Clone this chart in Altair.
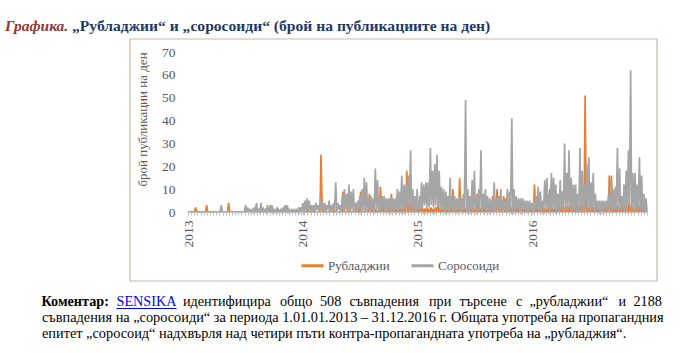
import altair as alt
import pandas as pd

# ---------------- data (weekly readings: peak and trough of each week) ----------------
series_names = ["Рубладжии", "Соросоиди"]
year_labels = ["2013", "2014", "2015", "2016"]
y_ticks = [0, 10, 20, 30, 40, 50, 60, 70]

soros_peak = [
    # 2013
    0, 0, 0, 0, 0, 0, 0, 0, 0, 0, 0, 0, 0, 0, 0, 3, 0, 0, 0, 0, 0, 0, 0, 0, 0, 0,
    3, 2, 1, 1, 2, 4, 1, 4, 2, 1, 3, 2, 3, 1, 1, 1, 1, 2, 3, 3, 1, 1, 1, 1, 1, 2, 4,
    # 2014
    5, 6, 5, 3, 3, 4, 3, 6, 4, 4, 3, 5, 3, 4, 13, 4, 3, 7, 10, 8, 12, 9, 10, 4, 5, 7,
    10, 15, 13, 6, 7, 6, 19, 14, 6, 7, 7, 6, 6, 7, 6, 6, 10, 9, 16, 12, 12, 16, 27, 10, 7, 10,
    # 2015
    5, 13, 12, 13, 13, 28, 18, 21, 25, 18, 11, 10, 9, 7, 15, 7, 7, 6, 7, 6, 8, 49, 10, 7, 14, 18,
    6, 10, 27, 8, 10, 7, 6, 5, 13, 6, 7, 10, 5, 5, 10, 9, 41, 10, 7, 6, 6, 6, 5, 5, 5, 4,
    # 2016
    5, 7, 11, 9, 5, 14, 15, 8, 17, 15, 12, 8, 14, 9, 30, 17, 27, 15, 12, 12, 8, 28, 18, 12, 21, 24,
    13, 17, 8, 5, 5, 5, 5, 5, 8, 14, 10, 11, 28, 19, 7, 12, 18, 27, 62, 17, 17, 12, 24, 16, 8, 6,
]
soros_low = [
    # 2013
    0, 0, 0, 0, 0, 0, 0, 0, 0, 0, 0, 0, 0, 0, 0, 0, 0, 0, 0, 0, 0, 0, 0, 0, 0, 0,
    0, 0, 0, 0, 0, 0, 0, 0, 0, 0, 0, 0, 0, 0, 0, 0, 0, 0, 0, 0, 0, 0, 0, 0, 0, 0, 0,
    # 2014
    0, 1, 0, 0, 0, 1, 0, 1, 0, 0, 1, 0, 0, 1, 0, 1, 0, 0, 1, 0, 0, 1, 0, 0, 1, 0,
    1, 0, 0, 1, 0, 0, 1, 0, 0, 1, 0, 0, 1, 0, 0, 1, 0, 1, 0, 1, 2, 0, 1, 0, 0, 1,
    # 2015
    1, 2, 3, 2, 2, 3, 2, 3, 2, 1, 1, 0, 1, 0, 1, 0, 0, 1, 0, 0, 1, 0, 0, 1, 0, 1,
    0, 1, 0, 1, 0, 0, 1, 0, 0, 1, 0, 0, 1, 0, 0, 1, 0, 0, 1, 0, 0, 1, 0, 0, 1, 0,
    # 2016
    0, 1, 0, 0, 1, 1, 1, 0, 1, 1, 0, 0, 1, 0, 1, 1, 1, 0, 1, 0, 0, 1, 0, 1, 1, 0,
    1, 0, 0, 1, 0, 0, 1, 0, 1, 0, 1, 1, 1, 0, 1, 0, 1, 2, 1, 0, 1, 1, 1, 0, 0, 0,
]
rubl_peak = [
    # 2013
    0, 0, 0, 2, 0, 0, 0, 0, 3, 0, 0, 0, 0, 0, 0, 0, 0, 0, 4, 0, 0, 0, 0, 0, 0, 0,
    0, 0, 0, 0, 0, 0, 0, 0, 0, 0, 0, 3, 0, 0, 2, 0, 0, 0, 0, 0, 0, 0, 0, 0, 2, 0, 0,
    # 2014
    0, 1, 0, 0, 1, 0, 0, 25, 0, 0, 0, 1, 0, 1, 0, 0, 1, 9, 0, 1, 2, 0, 1, 0, 1, 9,
    0, 1, 0, 8, 2, 2, 1, 0, 11, 2, 1, 2, 1, 8, 1, 2, 1, 2, 1, 3, 18, 3, 4, 2, 3, 2,
    # 2015
    7, 2, 1, 2, 1, 2, 1, 2, 3, 2, 1, 2, 1, 3, 2, 10, 2, 1, 15, 2, 1, 2, 1, 3, 2, 1,
    8, 2, 1, 2, 3, 1, 2, 7, 2, 10, 2, 3, 7, 6, 2, 3, 1, 2, 1, 2, 1, 2, 1, 2, 1, 2,
    # 2016
    12, 2, 1, 2, 1, 2, 1, 10, 2, 1, 2, 3, 2, 3, 2, 3, 2, 3, 2, 3, 2, 4, 3, 51, 3, 2,
    3, 2, 2, 1, 2, 1, 2, 3, 16, 16, 3, 2, 3, 2, 3, 2, 3, 4, 3, 2, 3, 4, 3, 4, 3, 2,
]
rubl_low = [0] * len(rubl_peak)

start = pd.Timestamp("2013-01-01")
rows = []
# (series, peaks, lows, day offset of trough, day offset of peak)
for name, peaks, lows, d_lo, d_pk in [(series_names[0], rubl_peak, rubl_low, 0, 3),
                                      (series_names[1], soros_peak, soros_low, 4, 1)]:
    for i, (p, lo) in enumerate(zip(peaks, lows)):
        wk = start + pd.Timedelta(days=7 * i)
        pts = sorted([(d_pk, p), (d_lo, lo)])
        for d, v in pts:
            rows.append({"date": (wk + pd.Timedelta(days=d)).strftime("%Y-%m-%d"),
                         "series": name, "value": v})
df = pd.DataFrame(rows)

def ms(ts):
    return int(pd.Timestamp(ts).value // 10**6)

year_ticks = [ms(f"{y}-01-01") for y in year_labels]
minor_ticks = [ms(t) for t in pd.date_range("2013-01-01", "2016-12-31", freq="10D")]
tick_values = sorted(set(year_ticks) | set(minor_ticks))
x_domain = [ms("2013-01-01"), ms("2016-12-31")]

SERIF = "Liberation Serif"
GREY_TXT = "#595959"

# ---------------- plot (origin of the plot area = (188, 52) in page pixels) ----------------
lines = alt.Chart(df).mark_line(strokeWidth=1.7).encode(
    x=alt.X("date:T", scale=alt.Scale(type="utc", domain=x_domain),
            axis=alt.Axis(values=tick_values, title=None, grid=False, zindex=1,
                          labelExpr="utcmonth(datum.value) == 0 && utcdate(datum.value) == 1 ? utcFormat(datum.value, '%Y') : ''",
                          labelAngle=270, labelAlign="right", labelBaseline="middle",
                          labelPadding=5, labelOverlap=False, labelFlush=False,
                          labelFont=SERIF, labelFontSize=13.5, labelColor=GREY_TXT,
                          domainColor="#BFBFBF", domainWidth=1,
                          tickColor="#BFBFBF", tickSize=3, tickWidth=1)),
    y=alt.Y("value:Q", scale=alt.Scale(domain=[0, 70], nice=False),
            axis=alt.Axis(values=y_ticks, title="брой публикации на ден", grid=False, zindex=1,
                          ticks=False, domain=False, labelPadding=13,
                          labelFont=SERIF, labelFontSize=13.5, labelColor=GREY_TXT,
                          titleFont=SERIF, titleFontSize=13, titleFontWeight="normal",
                          titleColor=GREY_TXT, titleAngle=270, titleX=-46, titleY=67,
                          titleAlign="center", titleBaseline="middle")),
    color=alt.Color("series:N", scale=alt.Scale(domain=series_names, range=["#ED7D31", "#A5A5A5"]),
                    legend=alt.Legend(title=None, orient="none", legendX=112, legendY=201,
                                      direction="horizontal", symbolType="stroke", symbolSize=484,
                                      symbolStrokeWidth=3, labelFont=SERIF, labelFontSize=13,
                                      labelColor=GREY_TXT, labelOffset=3, columnPadding=15,
                                      padding=0)),
    detail="series:N",
)

one = pd.DataFrame({"k": [0]})
frame = alt.Chart(one).mark_rect(fill="transparent", stroke="#C9B99D", strokeWidth=1.2).encode(
    x=alt.value(-58), x2=alt.value(469), y=alt.value(-13), y2=alt.value(229))

title_a = alt.Chart(one).mark_text(align="left", baseline="alphabetic", font=SERIF, fontSize=15.5,
                                   fontWeight="bold", fontStyle="italic", color="#943634").encode(
    x=alt.value(-183), y=alt.value(-21), text=alt.value("Графика."))
title_b = alt.Chart(one).mark_text(align="left", baseline="alphabetic", font=SERIF, fontSize=15.6,
                                   fontWeight="bold", color="#1F3864").encode(
    x=alt.value(-116), y=alt.value(-21),
    text=alt.value("„Рубладжии“ и „соросоиди“ (брой на публикациите на ден)"))

# comment paragraph (first line justified word by word: word, left x on page)
FS = 14.2
line1 = [("Коментар:", 41.5, "bold", "black"), ("SENSIKA", 116.5, "normal", "#0000FF"),
         ("идентифицира", 183, "normal", "black"), ("общо", 280, "normal", "black"),
         ("508", 320, "normal", "black"), ("съвпадения", 349.5, "normal", "black"),
         ("при", 429, "normal", "black"), ("търсене", 459.5, "normal", "black"),
         ("с", 516, "normal", "black"), ("„рубладжии“", 529.5, "normal", "black"),
         ("и", 618.5, "normal", "black"), ("2188", 633.5, "normal", "black")]
texts = []
for w, xa, fw, col in line1:
    texts.append(alt.Chart(one).mark_text(align="left", baseline="alphabetic", font=SERIF,
                                          fontSize=FS, fontWeight=fw, color=col).encode(
        x=alt.value(xa - 188), y=alt.value(306 - 52), text=alt.value(w)))
line2 = "съвпадения на „соросоиди“ за периода 1.01.01.2013 – 31.12.2016 г. Общата употреба на пропагандния"
line3 = "епитет „соросоид“ надхвърля над четири пъти контра-пропагандната употреба на „рубладжия“."
for txt, yb in [(line2, 322), (line3, 338)]:
    texts.append(alt.Chart(one).mark_text(align="left", baseline="alphabetic", font=SERIF,
                                          fontSize=14.32, color="black").encode(
        x=alt.value(42 - 188), y=alt.value(yb - 52), text=alt.value(txt)))
underline = alt.Chart(one).mark_rule(color="#0000FF", strokeWidth=1).encode(
    x=alt.value(116.5 - 188), x2=alt.value(176.5 - 188), y=alt.value(308.5 - 52))

chart = alt.layer(frame, lines, title_a, title_b, underline, *texts).properties(
    width=459, height=160,
    autosize=alt.AutoSizeParams(type="none"),
    padding={"left": 188, "top": 52, "right": 40, "bottom": 141},
    background="white",
).configure_view(stroke=None)

chart.save("out.html", embed_options={"renderer": "svg", "actions": False})
